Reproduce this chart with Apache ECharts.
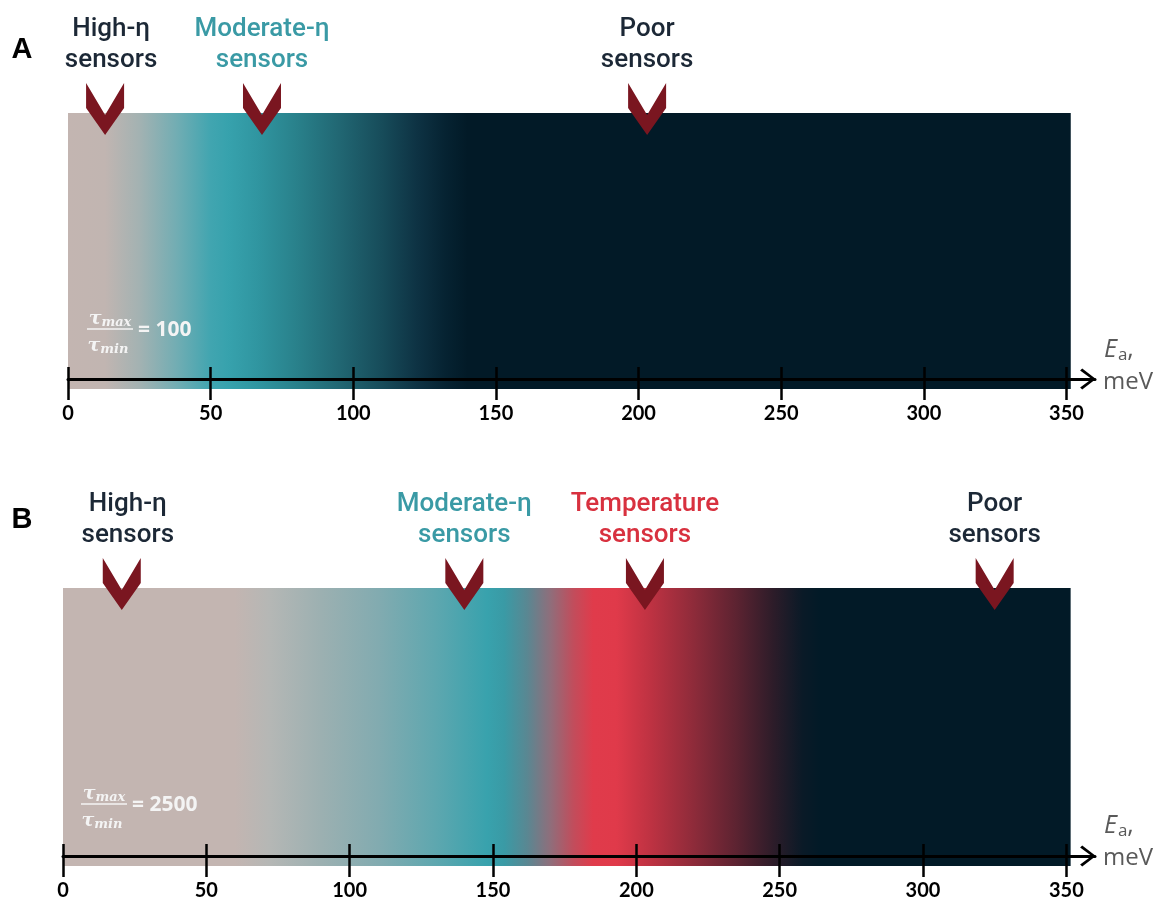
<!DOCTYPE html>
<html>
<head>
<meta charset="utf-8">
<script src="https://cdn.jsdelivr.net/npm/echarts@6/dist/echarts.min.js"></script>
<style>
  html, body { margin: 0; padding: 0; background: #ffffff; }
  #chart { width: 1158px; height: 902px; }
</style>
</head>
<body>
<div id="chart"></div>
<script>
// ---- Activation-energy axis (meV) ----
const axisMax = 360;
const tickValues = [0, 50, 100, 150, 200, 250, 300, 350];
const tickLabels = ['0', '50', '100', '150', '200', '250', '300', '350'];
const barExtent = [0, 351.5];

// ---- Panel A: tau_max / tau_min = 100 ----
const ratioA = '100';
const stopsA_meV = [0, 13, 25, 38, 50, 56, 66, 80, 95, 110, 122, 132, 140, 351.5];
const stopsA_color = ['#c3b5b1', '#c1b5b1', '#a3b2b2', '#72adb3', '#41a5b0', '#37a2ad', '#3096a1',
  '#29818b', '#216773', '#174c5a', '#0e3344', '#062332', '#021a27', '#021a27'];
const markersA_meV = [13, 68, 203];
const markersA_name = ['High-η', 'Moderate-η', 'Poor'];
const markersA_kind = ['high', 'moderate', 'poor'];

// ---- Panel B: tau_max / tau_min = 2500 ----
const ratioB = '2500';
const stopsB_meV = [0, 60, 72, 90, 110, 130, 148, 154, 162, 170, 178, 185, 193, 205, 220, 235, 248, 258, 264, 351.5];
const stopsB_color = ['#c3b5b1', '#c3b5b1', '#b5b7b5', '#9cb0b1', '#82abb0', '#5ea7af', '#38a2ad',
  '#3a9aa5', '#5a8792', '#8f6e7b', '#c14d5c', '#e03b4b', '#e03a4a', '#be3242', '#8e2b3a',
  '#5c2331', '#2c1c29', '#0a1a27', '#021a27', '#021a27'];
const markersB_meV = [20.5, 140, 203, 325];
const markersB_name = ['High-η', 'Moderate-η', 'Temperature', 'Poor'];
const markersB_kind = ['high', 'moderate', 'temperature', 'poor'];

// ---- styling ----
const kindColor = { high: '#1c2836', moderate: '#3a9aa5', temperature: '#d8313f', poor: '#1c2836' };
const kindLabelShift = { high: 6, moderate: 0, temperature: 0, poor: 0 };
const chevronPath = 'path://M0,0 L19,32 L38,0 L38,25 L19,52 L0,25 Z';
const arrowPath = 'path://M0,13 L10,0 L20,13 L18,15 L10,4 L2,15 Z';
const BAR_OVERHANG = 10; // px the colour band extends below the axis line

function gradientBar(stopsE, stopsC) {
  return function (params, api) {
    const top = api.coord([api.value(0), 100]);
    const base = api.coord([api.value(1), 0]);
    const x0 = top[0], x1 = base[0];
    const w = x1 - x0;
    const colorStops = stopsE.map(function (e, i) {
      const px = api.coord([e, 0])[0];
      return { offset: Math.min(1, Math.max(0, (px - x0) / w)), color: stopsC[i] };
    });
    return {
      type: 'rect',
      shape: { x: x0, y: top[1], width: w, height: base[1] - top[1] + BAR_OVERHANG },
      style: { fill: new echarts.graphic.LinearGradient(0, 0, 1, 0, colorStops) }
    };
  };
}

function xAxesFor(gridIndex) {
  return [
    {
      type: 'value', gridIndex: gridIndex, min: 0, max: axisMax, position: 'bottom', z: 10,
      axisLine: {
        show: true, onZero: false,
        lineStyle: { color: '#000', width: 3 },
        symbol: ['none', arrowPath], symbolSize: [21, 16], symbolOffset: [0, -7]
      },
      axisTick: { show: true, customValues: tickValues, length: 21, lineStyle: { color: '#000', width: 2.5 } },
      axisLabel: {
        show: true, customValues: tickValues, margin: 25, color: '#000',
        fontFamily: 'Lato', fontWeight: 'bold', fontSize: 20,
        formatter: function (v) { const i = tickValues.indexOf(v); return i >= 0 ? tickLabels[i] : ''; }
      },
      splitLine: { show: false }
    },
    {
      type: 'value', gridIndex: gridIndex, min: 0, max: axisMax, position: 'bottom', z: 10,
      axisLine: { show: false, onZero: false },
      axisTick: { show: true, inside: true, customValues: tickValues, length: 12, lineStyle: { color: '#000', width: 2.5 } },
      axisLabel: { show: false },
      splitLine: { show: false }
    }
  ];
}

function markerSeries(xAxisIndex, yAxisIndex, meV, names, kinds) {
  return {
    type: 'scatter', xAxisIndex: xAxisIndex, yAxisIndex: yAxisIndex, z: 5, clip: false, silent: true,
    symbol: chevronPath, symbolSize: [38, 52], symbolOffset: [0, -4], symbolKeepAspect: false,
    itemStyle: { color: '#7a1620', opacity: 1 },
    label: {
      show: true, position: 'top', distance: 7, align: 'center',
      fontFamily: 'Roboto', fontSize: 26, fontWeight: 500, lineHeight: 31
    },
    data: meV.map(function (e, i) {
      return {
        value: [e, 100],
        label: {
          formatter: names[i] + '\nsensors',
          color: kindColor[kinds[i]],
          offset: [kindLabelShift[kinds[i]], 0]
        }
      };
    })
  };
}

function ratioGraphic(cx, cy, ratio) {
  const white = '#f4f4f4';
  const tau = { fill: white, fontFamily: 'DejaVu Serif', fontStyle: 'italic', fontWeight: 'bold', fontSize: 19 };
  const sub = { fill: white, fontFamily: 'DejaVu Serif', fontStyle: 'italic', fontWeight: 'bold', fontSize: 13, padding: [8, 0, 0, 0] };
  return [
    { type: 'text', x: cx, y: cy - 10, z: 20, silent: true,
      style: { text: '{t|τ}{s|max}', align: 'center', verticalAlign: 'middle', rich: { t: tau, s: sub } } },
    { type: 'line', z: 20, silent: true,
      shape: { x1: cx - 23, y1: cy, x2: cx + 23, y2: cy }, style: { stroke: white, lineWidth: 1.5 } },
    { type: 'text', x: cx - 2, y: cy + 17, z: 20, silent: true,
      style: { text: '{t|τ}{s|min}', align: 'center', verticalAlign: 'middle', rich: { t: tau, s: sub } } },
    { type: 'text', x: cx + 28, y: cy + 1, z: 20, silent: true,
      style: { text: '= ' + ratio, fill: white, fontFamily: 'Open Sans', fontWeight: 'bold', fontSize: 21,
        align: 'left', verticalAlign: 'middle' } }
  ];
}

function unitGraphic(x, y) {
  const grey = '#595959';
  return [
    { type: 'text', x: x, y: y, z: 20, silent: true,
      style: { text: '{e|E}{a|a}{c|,}', align: 'left', verticalAlign: 'middle',
        rich: {
          e: { fill: grey, fontFamily: 'Open Sans', fontStyle: 'italic', fontSize: 25 },
          a: { fill: grey, fontFamily: 'Open Sans', fontSize: 17, padding: [10, 0, 0, 1] },
          c: { fill: grey, fontFamily: 'Open Sans', fontSize: 25 }
        } } },
    { type: 'text', x: x - 1, y: y + 32, z: 20, silent: true,
      style: { text: 'meV', fill: grey, fontFamily: 'Open Sans', fontSize: 24, align: 'left', verticalAlign: 'middle' } }
  ];
}

const chart = echarts.init(document.getElementById('chart'), null, { renderer: 'canvas' });

const option = {
  animation: false,
  backgroundColor: '#ffffff',
  grid: [
    { left: 68, right: 63, top: 113, height: 266 },
    { left: 63, right: 63, top: 588, height: 268 }
  ],
  xAxis: xAxesFor(0).concat(xAxesFor(1)),
  yAxis: [
    { type: 'value', gridIndex: 0, min: 0, max: 100, show: false },
    { type: 'value', gridIndex: 1, min: 0, max: 100, show: false }
  ],
  series: [
    { type: 'custom', xAxisIndex: 0, yAxisIndex: 0, z: 1, silent: true,
      renderItem: gradientBar(stopsA_meV, stopsA_color), data: [barExtent] },
    { type: 'custom', xAxisIndex: 2, yAxisIndex: 1, z: 1, silent: true,
      renderItem: gradientBar(stopsB_meV, stopsB_color), data: [barExtent] },
    markerSeries(0, 0, markersA_meV, markersA_name, markersA_kind),
    markerSeries(2, 1, markersB_meV, markersB_name, markersB_kind)
  ],
  graphic: [
    { type: 'text', x: 22, y: 50, z: 20, silent: true,
      style: { text: 'A', fill: '#000', fontFamily: 'Liberation Sans', fontWeight: 'bold', fontSize: 29, align: 'center', verticalAlign: 'middle' } },
    { type: 'text', x: 22, y: 520, z: 20, silent: true,
      style: { text: 'B', fill: '#000', fontFamily: 'Liberation Sans', fontWeight: 'bold', fontSize: 29, align: 'center', verticalAlign: 'middle' } }
  ].concat(ratioGraphic(110, 329, ratioA))
   .concat(ratioGraphic(104, 804, ratioB))
   .concat(unitGraphic(1104, 350))
   .concat(unitGraphic(1104, 826))
};

chart.setOption(option);
</script>
</body>
</html>
